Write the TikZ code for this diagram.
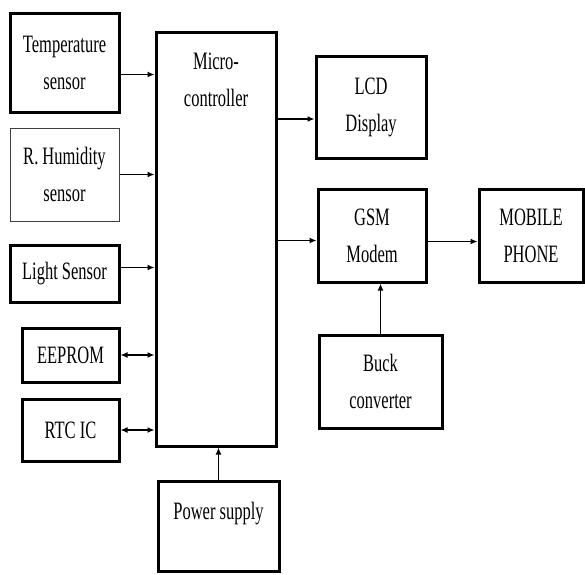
\documentclass[tikz,border=0pt]{standalone}
\usepackage{fontspec}
\setmainfont{Liberation Serif}[FakeStretch=0.66]
\usetikzlibrary{arrows.meta}

\tikzset{
  txt/.style={font=\fontsize{25}{37}\selectfont, align=center},
  blk/.style={draw, line width=3pt, inner sep=0pt, txt},
  thinblk/.style={blk, line width=1pt, draw=black!75},
  arr/.style={->, line width=1.3pt},
  darr/.style={<->, line width=1.3pt},
}

\begin{document}
\begin{tikzpicture}[x=1pt, y=-1pt, >={Latex[length=7pt,width=6pt]}]
\useasboundingbox (0,0) rectangle (585,574);
% inputs on the left
\node[blk, minimum width=109pt, minimum height=99pt] (temp) at (64.5,62.5) {Temperature\\sensor};
\node[thinblk, minimum width=109pt, minimum height=93pt] (hum) at (64.5,174.5) {R. Humidity\\sensor};
\node[blk, minimum width=109pt, minimum height=57pt] (light) at (64.5,273.5) {Light Sensor};
\node[blk, minimum width=97pt, minimum height=54pt] (eeprom) at (70.5,355) {EEPROM};
\node[blk, minimum width=97pt, minimum height=62pt] (rtc) at (70.5,430) {RTC IC};
% controller and supply
\node[blk, minimum width=120pt, minimum height=414pt,
      label={[txt, anchor=north, yshift=-19pt]north:Micro-\\controller}] (micro) at (216,239) {};
\node[blk, minimum width=121pt, minimum height=90pt,
      label={[txt, anchor=north, yshift=-19pt]north:Power supply}] (power) at (218.5,526) {};
% outputs on the right
\node[blk, minimum width=110pt, minimum height=102pt] (lcd) at (371,107) {LCD\\Display};
\node[blk, minimum width=108pt, minimum height=93pt] (gsm) at (372,235.5) {GSM\\Modem};
\node[blk, minimum width=104pt, minimum height=93pt] (phone) at (531,235.5) {MOBILE\\PHONE};
\node[blk, minimum width=123pt, minimum height=93pt] (buck) at (380.5,381.5) {Buck\\converter};

\draw[arr] ([yshift=-12pt]temp.east) -- ([yshift=-12pt]temp.east -| micro.west);
\draw[arr] (hum.east) -- (hum.east -| micro.west);
\draw[arr] ([yshift=6pt]light.east) -- ([yshift=6pt]light.east -| micro.west);
\draw[darr] (eeprom.east) -- (eeprom.east -| micro.west);
\draw[darr] (rtc.east) -- (rtc.east -| micro.west);
\draw[arr] (power.north) -- (power.north |- micro.south);
\draw[arr] ([yshift=-12pt]lcd.west -| micro.east) -- ([yshift=-12pt]lcd.west);
\draw[arr] ([yshift=-5pt]gsm.west -| micro.east) -- ([yshift=-5pt]gsm.west);
\draw[arr] ([yshift=-6pt]gsm.east) -- ([yshift=-6pt]gsm.east -| phone.west);
\draw[arr] (buck.north) -- (buck.north |- gsm.south);
\end{tikzpicture}
\end{document}
